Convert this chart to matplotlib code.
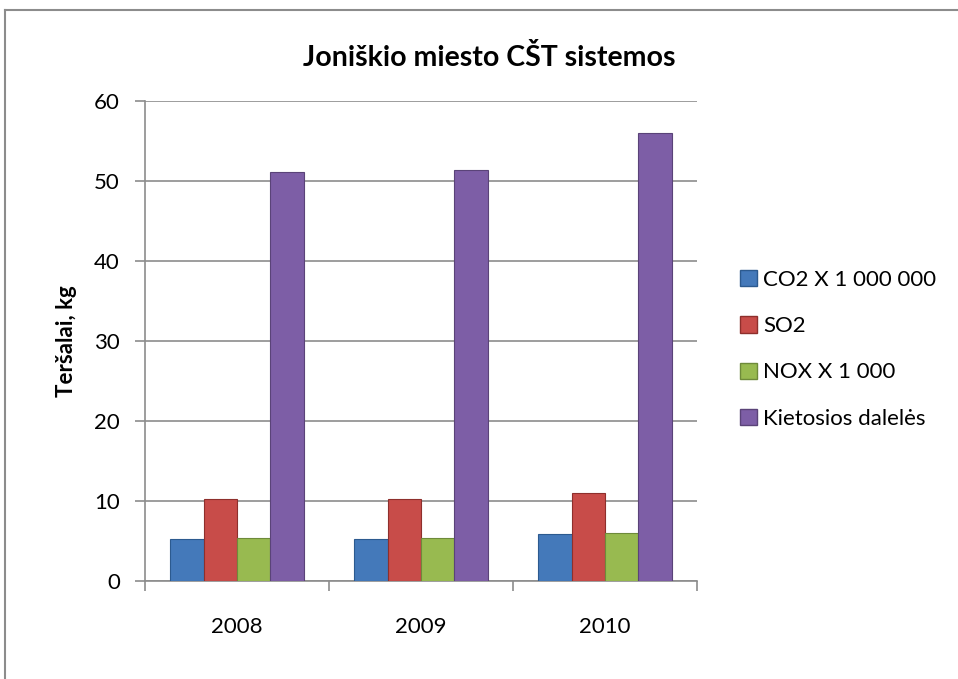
import matplotlib
matplotlib.use("Agg")
import matplotlib.pyplot as plt
import numpy as np
from matplotlib.patches import Patch
from matplotlib.lines import Line2D

# ==============================
# Data
# ==============================
years = ["2008", "2009", "2010"]
series_names = ["CO2 X 1 000 000", "SO2", "NOX X 1 000", "Kietosios dalelės"]
co2 = [5.3, 5.3, 5.9]
so2 = [10.3, 10.3, 11.0]
nox = [5.4, 5.4, 6.0]
kietosios = [51.1, 51.3, 56.0]

colors = ["#4479BA", "#C84C49", "#98BA50", "#7D5EA6"]
edges = ["#2C5A8F", "#8E2F2C", "#6E8A3A", "#5A4378"]

plt.rcParams["font.family"] = ["Lato", "DejaVu Sans"]

# ==============================
# Figure
# ==============================
fig = plt.figure(figsize=(9.58, 6.79), dpi=100)
ax = fig.add_axes([145 / 958, 1 - 581 / 679, (697 - 145) / 958, (581 - 100.7) / 679])

x = np.arange(len(years))
w = 1 / 5.5
all_series = [co2, so2, nox, kietosios]
for i, vals in enumerate(all_series):
    ax.bar(x + (i - 1.5) * w, vals, width=w, color=colors[i],
           edgecolor=edges[i], linewidth=0.8, zorder=3)

ax.set_xlim(-0.5, 2.5)
ax.set_ylim(0, 60)
ax.set_yticks(range(0, 61, 10))
ax.yaxis.grid(True, color="#8C8C8C", linewidth=1.2, zorder=0)

# category ticks at boundaries
ax.set_xticks([-0.5, 0.5, 1.5, 2.5])
ax.set_xticklabels([])
ax.set_xticks(x, minor=True)
ax.set_xticklabels(years, minor=True)
ax.tick_params(axis="x", which="major", length=7, color="#8C8C8C", width=1.2)
ax.tick_params(axis="x", which="minor", length=0, pad=26, labelsize=16)
ax.tick_params(axis="y", length=7, color="#8C8C8C", width=1.2, pad=11, labelsize=16)

for s in ["top", "right"]:
    ax.spines[s].set_visible(False)
for s in ["left", "bottom"]:
    ax.spines[s].set_color("#8C8C8C")
    ax.spines[s].set_linewidth(1.2)

ax.set_ylabel("Teršalai, kg", fontsize=16, fontweight="bold", labelpad=12)
fig.text(489 / 958, 1 - 57 / 679, "Joniškio miesto CŠT sistemos",
         ha="center", va="center", fontsize=20.5, fontweight="bold")

handles = [Patch(facecolor=colors[i], edgecolor=edges[i]) for i in range(4)]
fig.legend(handles, series_names, loc="upper left",
           bbox_to_anchor=(720 / 958, 1 - 250 / 679), frameon=False,
           fontsize=16, handlelength=0.75, handleheight=0.75,
           handletextpad=0.3, labelspacing=1.18)

# chart area border
fig.add_artist(Line2D([5 / 958, 1.0], [1 - 10 / 679, 1 - 10 / 679],
                      transform=fig.transFigure, color="#8C8C8C", linewidth=1.5))
fig.add_artist(Line2D([5 / 958, 5 / 958], [1 - 10 / 679, 0],
                      transform=fig.transFigure, color="#8C8C8C", linewidth=1.5))

fig.savefig("out.png", dpi=100)
